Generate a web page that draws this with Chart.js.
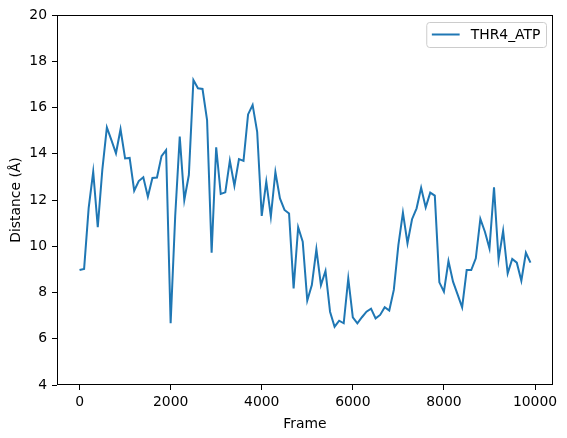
<!DOCTYPE html>
<html>
<head>
<meta charset="utf-8">
<script src="https://cdn.jsdelivr.net/npm/chart.js@4/dist/chart.umd.min.js"></script>
<style>
  html, body { margin: 0; padding: 0; background: #fff; }
  #wrap { width: 567px; height: 438px; }
</style>
</head>
<body>
<div id="wrap"><canvas id="distChart" width="567" height="438"></canvas></div>
<script>
// frames sampled every 100 steps
const frames = [
  0, 100, 200, 300, 400, 500, 600, 700, 800, 900,
  1000, 1100, 1200, 1300, 1400, 1500, 1600, 1700, 1800, 1900,
  2000, 2100, 2200, 2300, 2400, 2500, 2600, 2700, 2800, 2900,
  3000, 3100, 3200, 3300, 3400, 3500, 3600, 3700, 3800, 3900,
  4000, 4100, 4200, 4300, 4400, 4500, 4600, 4700, 4800, 4900,
  5000, 5100, 5200, 5300, 5400, 5500, 5600, 5700, 5800, 5900,
  6000, 6100, 6200, 6300, 6400, 6500, 6600, 6700, 6800, 6900,
  7000, 7100, 7200, 7300, 7400, 7500, 7600, 7700, 7800, 7900,
  8000, 8100, 8200, 8300, 8400, 8500, 8600, 8700, 8800, 8900,
  9000, 9100, 9200, 9300, 9400, 9500, 9600, 9700, 9800, 9900
];

// THR4 - ATP distance (Å)
const thr4Atp = [
  8.97, 9.02, 11.65, 13.22, 10.82, 13.3, 15.14, 14.59, 14.02, 15.06,
  13.8, 13.82, 12.4, 12.82, 12.98, 12.14, 12.95, 12.97, 13.9, 14.16,
  6.67, 11.3, 14.74, 12.0, 13.08, 17.19, 16.83, 16.8, 15.46, 9.72,
  14.28, 12.26, 12.33, 13.7, 12.62, 13.77, 13.69, 15.7, 16.11, 14.95,
  11.31, 12.79, 11.28, 13.21, 12.07, 11.57, 11.42, 8.18, 10.82, 10.2,
  7.65, 8.32, 9.87, 8.32, 8.93, 7.17, 6.52, 6.78, 6.67, 8.61,
  6.93, 6.67, 6.93, 7.17, 7.3, 6.88, 7.03, 7.36, 7.22, 8.11,
  10.05, 11.45, 10.13, 11.17, 11.64, 12.53, 11.68, 12.32, 12.19, 8.44,
  8.04, 9.36, 8.47, 7.92, 7.36, 8.97, 8.97, 9.48, 11.18, 10.63,
  9.91, 12.55, 9.43, 10.67, 8.83, 9.45, 9.29, 8.51, 9.72, 9.29
];

const xTicks = [0, 2000, 4000, 6000, 8000, 10000];
const yTicks = [4, 6, 8, 10, 12, 14, 16, 18, 20];

const FONT = 'DejaVu Sans';
const FS = 13.9;

// matplotlib-like frame around the plot area + upper right legend
const frameAndLegend = {
  id: 'frameAndLegend',
  afterDraw(chart) {
    const ctx = chart.ctx;
    const a = chart.chartArea;
    ctx.save();
    ctx.strokeStyle = '#000';
    ctx.lineWidth = 1;
    ctx.strokeRect(Math.round(a.left) + 0.5, Math.round(a.top) + 0.5,
      Math.round(a.right - a.left) - 1, Math.round(a.bottom - a.top) - 1);

    const ds = chart.data.datasets[0];
    ctx.font = FS + 'px "' + FONT + '"';
    const tw = ctx.measureText(ds.label).width;
    const pad = 5.6, handle = 27.8, gap = 11.1;
    const w = pad + handle + gap + tw + pad;
    const h = 25;
    const x = a.right - 7 - w;
    const y = a.top + 7;
    ctx.beginPath();
    ctx.roundRect(x + 0.5, y + 0.5, w, h, 3);
    ctx.fillStyle = 'rgba(255,255,255,0.8)';
    ctx.fill();
    ctx.strokeStyle = '#cccccc';
    ctx.lineWidth = 1;
    ctx.stroke();

    ctx.beginPath();
    ctx.moveTo(x + pad, y + h / 2);
    ctx.lineTo(x + pad + handle, y + h / 2);
    ctx.strokeStyle = ds.borderColor;
    ctx.lineWidth = ds.borderWidth;
    ctx.stroke();

    ctx.fillStyle = '#000';
    ctx.textBaseline = 'middle';
    ctx.fillText(ds.label, x + pad + handle + gap, y + h / 2 + 1);
    ctx.restore();
  }
};

new Chart(document.getElementById('distChart'), {
  type: 'line',
  data: {
    datasets: [{
      label: 'THR4_ATP',
      data: frames.map((f, i) => ({ x: f, y: thr4Atp[i] })),
      borderColor: '#1f77b4',
      borderWidth: 2,
      pointRadius: 0,
      tension: 0,
      fill: false
    }]
  },
  options: {
    responsive: false,
    animation: false,
    layout: { padding: { top: 15, right: 14, left: 0, bottom: 0 } },
    plugins: {
      legend: { display: false },
      tooltip: { enabled: false }
    },
    scales: {
      x: {
        type: 'linear',
        min: -495,
        max: 10395,
        afterBuildTicks: s => { s.ticks = xTicks.map(v => ({ value: v })); },
        afterFit: s => { s.height = 53; },
        border: { display: false },
        grid: { drawOnChartArea: false, drawTicks: true, tickLength: 5, color: '#000', lineWidth: 1 },
        ticks: { color: '#000', padding: 4, maxRotation: 0, callback: v => String(v), font: { family: FONT, size: FS } },
        title: { display: true, text: 'Frame', color: '#000', padding: { top: 0, bottom: 5.5 }, font: { family: FONT, size: FS } }
      },
      y: {
        min: 4,
        max: 20,
        afterBuildTicks: s => { s.ticks = yTicks.map(v => ({ value: v })); },
        afterFit: s => { s.width = 57; },
        border: { display: false },
        grid: { drawOnChartArea: false, drawTicks: true, tickLength: 5, color: '#000', lineWidth: 1 },
        ticks: { color: '#000', padding: 5, callback: v => String(v), font: { family: FONT, size: FS } },
        title: { display: true, text: 'Distance (Å)', color: '#000', padding: { top: 7.7, bottom: 0 }, font: { family: FONT, size: FS } }
      }
    }
  },
  plugins: [frameAndLegend]
});
</script>
</body>
</html>
